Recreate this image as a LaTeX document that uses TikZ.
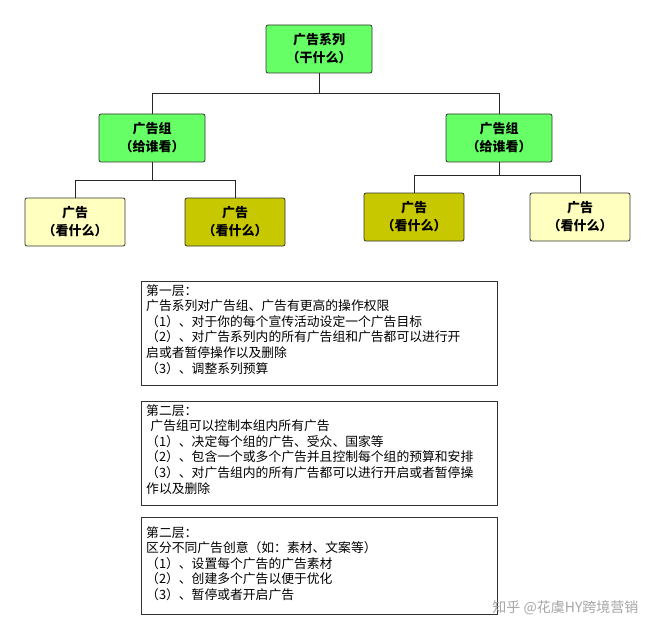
\documentclass[tikz,border=0pt]{standalone}
\usepackage{fontspec}
\setmainfont{Noto Sans CJK SC}
\XeTeXlinebreaklocale "zh"
\XeTeXlinebreakskip=0pt plus 1pt
\usetikzlibrary{positioning}
\definecolor{brightgreen}{HTML}{66FF66}
\definecolor{paleyellow}{HTML}{FFFFC0}
\definecolor{olive}{HTML}{C8C800}
\tikzset{
  box/.style={draw=black!80,thick,rounded corners=2pt,minimum width=106pt,
    minimum height=48pt,align=center,font=\fontsize{13}{18}\selectfont\bfseries},
  adbox/.style={box,minimum width=100pt},
  frame/.style={draw=black!80,thick,minimum width=356pt,anchor=north west},
  note/.style={text width=350pt,inner xsep=5pt,inner ysep=3pt,
    align=left,anchor=north west,font=\fontsize{12.8}{15.6}\selectfont},
  link/.style={draw=black!85,thick}
}

\begin{document}
\begin{tikzpicture}[x=1pt,y=-1pt]
  \useasboundingbox (0,0) rectangle (655,639);

  \node[box,fill=brightgreen]  (series) at (319,49)  {广告系列\\（干什么）};
  \node[box,fill=brightgreen]  (groupL) at (152,138) {广告组\\（给谁看）};
  \node[box,fill=brightgreen]  (groupR) at (499,138) {广告组\\（给谁看）};
  \node[adbox,fill=paleyellow] (adLL)   at (75,222)  {广告\\（看什么）};
  \node[adbox,fill=olive]      (adLR)   at (235,222) {广告\\（看什么）};
  \node[adbox,fill=olive]      (adRL)   at (414,217) {广告\\（看什么）};
  \node[adbox,fill=paleyellow] (adRR)   at (580,217) {广告\\（看什么）};

  \draw[link] (series.south) -- ++(0,20) -| (groupL.north);
  \draw[link] (series.south) -- ++(0,20) -| (groupR.north);
  \draw[link] (groupL.south) -- ++(0,18) -| (adLL.north);
  \draw[link] (groupL.south) -- ++(0,18) -| (adLR.north);
  \draw[link] (groupR.south) -- ++(0,13) -| (adRL.north);
  \draw[link] (groupR.south) -- ++(0,13) -| (adRR.north);

  % three text boxes
  \node[frame,minimum height=104pt] (frame1) at (141,281) {};
  \node[frame,minimum height=104pt] (frame2) at (141,401) {};
  \node[frame,minimum height=97pt]  (frame3) at (141,517) {};

  \node[note] (layer1) at (frame1.north west) {第一层：\\
    广告系列对广告组、广告有更高的操作权限\\
    （1）、对于你的每个宣传活动设定一个广告目标\\
    （2）、对广告系列内的所有广告组和广告都可以进行开\\
    启或者暂停操作以及删除\\
    （3）、调整系列预算};
  \node[note] (layer2) at (frame2.north west) {第二层：\\
    \ 广告组可以控制本组内所有广告\\
    （1）、决定每个组的广告、受众、国家等\\
    （2）、包含一个或多个广告并且控制每个组的预算和安排\\
    （3）、对广告组内的所有广告都可以进行开启或者暂停操\\
    作以及删除};
  \node[note] (layer3) at ([yshift=-6pt]frame3.north west) {第二层：\\
    区分不同广告创意（如：素材、文案等）\\
    （1）、设置每个广告的广告素材\\
    （2）、创建多个广告以便于优化\\
    （3）、暂停或者开启广告};

  \node[text=black!35,font=\fontsize{14}{16}\selectfont,anchor=east] (credit) at (642,608) {知乎 @花虞HY跨境营销};
\end{tikzpicture}
\end{document}
